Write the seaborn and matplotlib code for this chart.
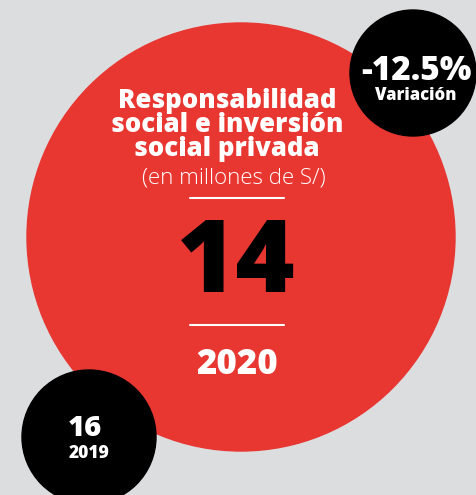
import matplotlib.pyplot as plt
import matplotlib.patches as mpatches
import seaborn as sns

# data
title_lines = ["Responsabilidad", "social e inversión", "social privada"]
unit_label = "(en millones de S/)"
years = ["2019", "2020"]
values = [16, 14]
variation = -12.5

sns.set_theme(style="white")
plt.rcParams['font.family'] = ['Open Sans', 'DejaVu Sans']

bg = "#dcdddf"
red = "#e83631"

fig = plt.figure(figsize=(4.76, 4.95), dpi=100)
fig.patch.set_facecolor(bg)
ax = fig.add_axes([0, 0, 1, 1])
ax.set_facecolor(bg)
ax.set_xlim(0, 476)
ax.set_ylim(495, 0)
ax.set_aspect('equal')
ax.axis('off')

# big circle for current year, small ones for previous year and variation
ax.add_patch(mpatches.Circle((241, 237), 214, color=red, zorder=1))
ax.add_patch(mpatches.Circle((413, 73), 63, color="black", zorder=2))
ax.add_patch(mpatches.Circle((89, 437), 67, color="black", zorder=2))

ax.text(227, 125, "\n".join(title_lines), color="white", fontsize=18.5,
        fontweight="heavy", ha="center", va="center", linespacing=0.92, zorder=3)
ax.text(234, 178, unit_label, color="white", fontsize=16, fontweight="light",
        ha="center", va="center", zorder=3)

ax.plot([190, 284], [198, 198], color="white", lw=1.5, zorder=3)
ax.plot([190, 284], [325, 325], color="white", lw=1.5, zorder=3)

ax.text(236, 266, f"{values[1]}", color="black", fontsize=73, fontweight="heavy",
        ha="center", va="center", zorder=3)
ax.text(237, 365, years[1], color="white", fontsize=25, fontweight="heavy",
        ha="center", va="center", zorder=3)

ax.text(416, 71, f"{variation}%", color="white", fontsize=24, fontweight="heavy",
        ha="center", va="center", zorder=3)
ax.text(416, 96, "Variación", color="white", fontsize=12, fontweight="heavy",
        ha="center", va="center", zorder=3)

ax.text(85, 429, f"{values[0]}", color="white", fontsize=21, fontweight="heavy",
        ha="center", va="center", zorder=3)
ax.text(89, 454, years[0], color="white", fontsize=12.5, fontweight="heavy",
        ha="center", va="center", zorder=3)

fig.savefig("out.png", dpi=100, facecolor=bg)
